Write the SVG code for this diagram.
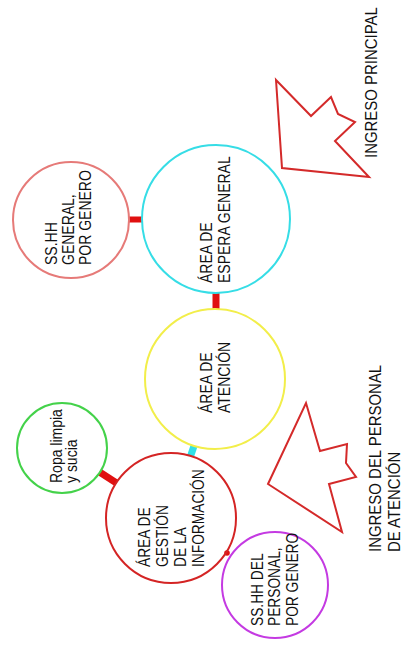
<svg xmlns="http://www.w3.org/2000/svg" width="406" height="645" viewBox="0 0 406 645">
  <style>
    .node { fill: none; stroke-width: 2; }
    .lbl { font-family: "Liberation Sans", Arial, sans-serif; font-size: 16px; fill: #111111; }
    .big { font-size: 17px; }
    .link { stroke-linecap: butt; fill: none; }
    .red { stroke: #e01010; }
    .cyan { stroke: #30e0e8; }
    .entry { fill: none; stroke: #d42a2a; stroke-width: 2; stroke-linejoin: miter; }
  </style>
  <rect width="406" height="645" fill="#ffffff"/>

  <!-- connectors between areas -->
  <g id="connectors">
    <line class="link red" x1="129" y1="219.5" x2="142" y2="219.5" stroke-width="6"/>
    <line class="link red" x1="216" y1="293" x2="216" y2="310" stroke-width="7"/>
    <line class="link cyan" x1="194" y1="446" x2="190.6" y2="456" stroke-width="7"/>
    <line class="link red" x1="99.5" y1="472" x2="116.5" y2="483" stroke-width="7"/>
    <circle cx="227" cy="553" r="2.8" fill="#e01010"/>
  </g>

  <!-- labels are set in a slightly condensed face: scale(0.875,1) along the reading direction -->
  <g id="ss-hh-general">
    <circle class="node" cx="71" cy="220" r="58" stroke="#e67a78"/>
    <text class="lbl" transform="translate(57,265) rotate(-90) scale(0.875,1)">
      <tspan x="0" dy="0">SS.HH</tspan>
      <tspan x="0" dy="17">GENERAL,</tspan>
      <tspan x="0" dy="17">POR GENERO</tspan>
    </text>
  </g>

  <g id="espera-general">
    <circle class="node" cx="216" cy="219" r="74" stroke="#36dde6"/>
    <text class="lbl" transform="translate(212,283) rotate(-90) scale(0.875,1)">
      <tspan x="0" dy="0">ÁREA DE</tspan>
      <tspan x="0" dy="18">ESPERA GENERAL</tspan>
    </text>
  </g>

  <g id="atencion">
    <circle class="node" cx="215" cy="379" r="70" stroke="#f2ee4a"/>
    <text class="lbl" transform="translate(212,413) rotate(-90) scale(0.875,1)">
      <tspan x="0" dy="0">ÁREA DE</tspan>
      <tspan x="0" dy="18.5">ATENCIÓN</tspan>
    </text>
  </g>

  <g id="ropa">
    <circle class="node" cx="62" cy="448" r="45" stroke="#44d24a"/>
    <text class="lbl" transform="translate(62,483) rotate(-90) scale(0.875,1)">
      <tspan x="0" dy="0">Ropa limpia</tspan>
      <tspan x="0" dy="15.5">y sucia</tspan>
    </text>
  </g>

  <g id="gestion-informacion">
    <circle class="node" cx="171" cy="518" r="65" stroke="#d42424"/>
    <text class="lbl" transform="translate(150,567) rotate(-90) scale(0.86,1)">
      <tspan x="0" dy="0">ÁREA DE</tspan>
      <tspan x="0" dy="18">GESTIÓN</tspan>
      <tspan x="0" dy="18">DE LA</tspan>
      <tspan x="0" dy="18">INFORMACIÓN</tspan>
    </text>
  </g>

  <g id="ss-hh-personal">
    <circle class="node" cx="275" cy="585" r="53" stroke="#c43ae2"/>
    <text class="lbl" transform="translate(263,626) rotate(-90) scale(0.86,1)">
      <tspan x="0" dy="0">SS.HH DEL</tspan>
      <tspan x="0" dy="17.5">PERSONAL,</tspan>
      <tspan x="0" dy="17.5">POR GENERO</tspan>
    </text>
  </g>

  <g id="ingreso-principal">
    <polygon class="entry" points="276,80 311,116 331,97 338,114 355,122 335,141 369,177 282,168"/>
    <text class="lbl big" transform="translate(377,158) rotate(-90) scale(0.88,1)">INGRESO PRINCIPAL</text>
  </g>

  <g id="ingreso-personal">
    <polygon class="entry" points="306,403 320,451 347,444 346,463 356,477 329,484 342,532 268,484"/>
    <text class="lbl big" transform="translate(381,552) rotate(-90) scale(0.88,1)">
      <tspan x="0" dy="0">INGRESO DEL PERSONAL</tspan>
      <tspan x="0" dy="19">DE ATENCIÓN</tspan>
    </text>
  </g>
</svg>
